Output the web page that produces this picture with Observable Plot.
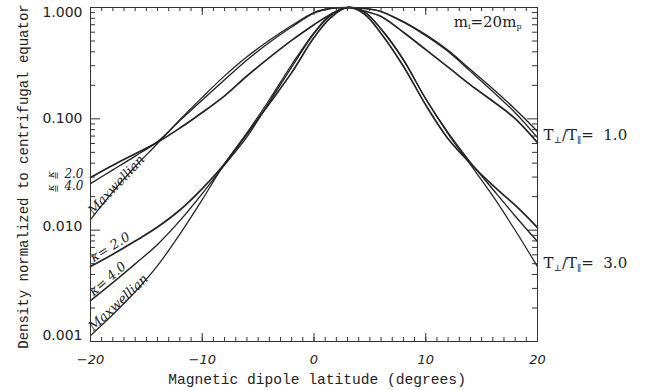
<!DOCTYPE html>
<html>
<head>
<meta charset="utf-8">
<script src="https://cdn.jsdelivr.net/npm/d3@7"></script>
<script src="https://cdn.jsdelivr.net/npm/@observablehq/plot@0.6"></script>
<style>
  html, body { margin: 0; padding: 0; background: #fff; }
</style>
</head>
<body>
<div id="chart"></div>
<script>
// ---------- data ----------
const latitude = [-20, -18, -16, -14, -12, -10, -8, -6, -4, -2, 0, 1.5, 3, 4.5, 6, 8, 10, 12, 14, 16, 18, 20];

// T_perp/T_par = 1.0
const t1Kappa2 = [0.0297, 0.0383, 0.0486, 0.0616, 0.0826, 0.114, 0.161, 0.2425, 0.355, 0.507, 0.70, 0.87, 1.0, 0.93, 0.83, 0.599, 0.418, 0.291, 0.2017, 0.144, 0.1006, 0.0612];
const t1Kappa4 = [0.0262, 0.0348, 0.0463, 0.0624, 0.0964, 0.1475, 0.224, 0.337, 0.485, 0.668, 0.892, 0.98, 1.0, 0.98, 0.92, 0.748, 0.570, 0.412, 0.277, 0.186, 0.122, 0.0769];
const t1Maxw   = [0.01245, 0.0221, 0.0373, 0.0601, 0.0984, 0.156, 0.243, 0.361, 0.507, 0.689, 0.902, 0.98, 1.0, 0.98, 0.92, 0.736, 0.558, 0.402, 0.267, 0.176, 0.1135, 0.0679];

// T_perp/T_par = 3.0
const t3Kappa2 = [0.00471, 0.00607, 0.00798, 0.01067, 0.01517, 0.02365, 0.0395, 0.0732, 0.1367, 0.260, 0.537, 0.81, 1.0, 0.874, 0.585, 0.297, 0.133, 0.0662, 0.0397, 0.0252, 0.01675, 0.01055];
const t3Kappa4 = [0.00233, 0.00338, 0.00498, 0.00745, 0.01217, 0.0213, 0.0386, 0.069, 0.1416, 0.291, 0.584, 0.848, 1.0, 0.911, 0.638, 0.337, 0.151, 0.0752, 0.0407, 0.0233, 0.01342, 0.0079];
const t3Maxw   = [0.00113, 0.00175, 0.00280, 0.00480, 0.0092, 0.0188, 0.0396, 0.0748, 0.1484, 0.306, 0.596, 0.865, 1.0, 0.915, 0.645, 0.342, 0.1507, 0.0733, 0.0387, 0.0203, 0.00998, 0.00471];

const seriesNames = ["t1Kappa2", "t1Kappa4", "t1Maxw", "t3Kappa2", "t3Kappa4", "t3Maxw"];
const seriesValues = [t1Kappa2, t1Kappa4, t1Maxw, t3Kappa2, t3Kappa4, t3Maxw];
const seriesKind = ["kappa2", "kappa4", "maxw", "kappa2", "kappa4", "maxw"];

const xTicks = [-20, -10, 0, 10, 20];
const yTicks = [0.001, 0.01, 0.1, 1];
const xTitle = "Magnetic dipole latitude (degrees)";
const yTitle = "Density normalized to centrifugal equator";
const massLabel = "mi=20mp";
const ratioLabels = ["T⊥/T∥= 1.0", "T⊥/T∥= 3.0"];
const curveLabels = ["Maxwellian", "κ= 2.0", "κ= 4.0", "Maxwellian"];
const edgeLabels = ["2.0", "4.0"];

// ---------- derived tables ----------
const rows = seriesNames.flatMap((name, i) =>
  latitude.map((lat, j) => ({series: name, kind: seriesKind[i], lat, density: seriesValues[i][j]})));

const xMinor = d3.range(-20, 21, 1);
const yMinor = [];
for (const dec of [0.001, 0.01, 0.1]) for (let m = 2; m <= 9; m++) yMinor.push(+(m * dec).toPrecision(3));

// ---------- layout ----------
const W = 648, H = 390;
const mL = 90, mR = 111, mT = 7, mB = 49;
const innerW = W - mL - mR, innerH = H - mT - mB;
const ink = "#222";
const widthByKind = {kappa2: 1.7, kappa4: 1.35, maxw: 1.25};
const yLabelShift = [-6, -4, 0, 5]; // vertical nudge of each y tick label (px)

function firstPoint(arr) { return {lat: latitude[0], density: arr[0]}; }
function lastPoint(arr) { return {lat: latitude[latitude.length - 1], density: arr[arr.length - 1]}; }

const labelFont = {fontFamily: "DejaVu Serif", fontStyle: "italic", fontSize: 13, fill: ink};

const chart = Plot.plot({
  width: W, height: H,
  marginLeft: mL, marginRight: mR, marginTop: mT, marginBottom: mB,
  x: {domain: [-20, 20]},
  y: {type: "log", domain: [0.001, 1]},
  style: {background: "white", color: ink, overflow: "visible"},
  marks: [
    // curves
    ...seriesNames.map((name, i) =>
      Plot.line(rows.filter(r => r.series === name), {
        x: "lat", y: "density", stroke: ink,
        strokeWidth: widthByKind[seriesKind[i]], curve: "catmull-rom"
      })),
    // frame
    Plot.frame({stroke: "#333", strokeWidth: 1}),
    // inward ticks, x
    Plot.tickX(xMinor, {x: d => d, insetTop: innerH - 4, stroke: "#333"}),
    Plot.tickX(xMinor, {x: d => d, insetBottom: innerH - 4, stroke: "#333"}),
    Plot.tickX(xTicks, {x: d => d, insetTop: innerH - 8, stroke: "#333"}),
    Plot.tickX(xTicks, {x: d => d, insetBottom: innerH - 8, stroke: "#333"}),
    // inward ticks, y
    Plot.tickY(yMinor, {y: d => d, insetRight: innerW - 5, stroke: "#333"}),
    Plot.tickY(yMinor, {y: d => d, insetLeft: innerW - 5, stroke: "#333"}),
    Plot.tickY(yTicks, {y: d => d, insetRight: innerW - 10, stroke: "#333"}),
    Plot.tickY(yTicks, {y: d => d, insetLeft: innerW - 10, stroke: "#333"}),
    // axes labels
    Plot.axisX(xTicks, {tickSize: 0, tickPadding: 13, label: null, fontFamily: "DejaVu Sans", fontStyle: "italic", fontSize: 13, fill: ink}),
    ...yTicks.map((t, i) =>
      Plot.axisY([t], {tickSize: 0, tickPadding: 8, dy: yLabelShift[i], label: null, tickFormat: d3.format(".3f"), fontFamily: "DejaVu Sans", fontSize: 14, fill: ink})),
    Plot.text([xTitle], {text: d => d, frameAnchor: "bottom", dx: 3, dy: 38, textAnchor: "middle", lineAnchor: "middle", fontFamily: "Liberation Mono", fontSize: 14.6, fill: ink}),
    Plot.text([yTitle], {text: d => d, frameAnchor: "left", dx: -67, dy: 2, rotate: -90, textAnchor: "middle", lineAnchor: "middle", fontFamily: "Liberation Mono", fontSize: 14, fill: ink}),
    // mass label
    Plot.text([massLabel], {text: d => d, frameAnchor: "top-right", dx: -16, dy: 15, textAnchor: "end", lineAnchor: "middle", fontFamily: "DejaVu Serif", fontSize: 15, fill: ink}),
    // ratio labels at right edge
    Plot.text([lastPoint(t1Maxw)], {x: "lat", y: "density", text: () => ratioLabels[0], dx: 6, dy: -2, textAnchor: "start", lineAnchor: "middle", fontFamily: "DejaVu Serif", fontSize: 15, fill: ink}),
    Plot.text([lastPoint(t3Maxw)], {x: "lat", y: "density", text: () => ratioLabels[1], dx: 6, dy: -3, textAnchor: "start", lineAnchor: "middle", fontFamily: "DejaVu Serif", fontSize: 15, fill: ink}),
    // curve labels along left curves
    Plot.text([firstPoint(t1Maxw)], {x: "lat", y: "density", text: () => curveLabels[0], dx: 3, dy: -4, rotate: -47, textAnchor: "start", lineAnchor: "bottom", ...labelFont}),
    Plot.text([firstPoint(t3Kappa2)], {x: "lat", y: "density", text: () => curveLabels[1], dx: 3, dy: -4, rotate: -32, textAnchor: "start", lineAnchor: "bottom", ...labelFont}),
    Plot.text([firstPoint(t3Kappa4)], {x: "lat", y: "density", text: () => curveLabels[2], dx: 3, dy: -4, rotate: -41, textAnchor: "start", lineAnchor: "bottom", ...labelFont}),
    Plot.text([firstPoint(t3Maxw)], {x: "lat", y: "density", text: () => curveLabels[3], dx: 3, dy: -4, rotate: -43, textAnchor: "start", lineAnchor: "bottom", ...labelFont}),
    // squeezed kappa labels left of the axis (T ratio 1.0)
    Plot.text([firstPoint(t1Kappa2)], {x: "lat", y: "density", text: () => edgeLabels[0], dx: -7, dy: -3, textAnchor: "end", lineAnchor: "middle", ...labelFont, fontSize: 12}),
    Plot.text([firstPoint(t1Kappa4)], {x: "lat", y: "density", text: () => edgeLabels[1], dx: -7, dy: 3, textAnchor: "end", lineAnchor: "middle", ...labelFont, fontSize: 12}),
    Plot.text([firstPoint(t1Kappa2)], {x: "lat", y: "density", text: () => "κ", dx: -40, dy: -3, rotate: -90, textAnchor: "middle", lineAnchor: "middle", ...labelFont, fontSize: 10}),
    Plot.text([firstPoint(t1Kappa4)], {x: "lat", y: "density", text: () => "κ", dx: -40, dy: 4, rotate: -90, textAnchor: "middle", lineAnchor: "middle", ...labelFont, fontSize: 10}),
    Plot.text([firstPoint(t1Kappa2)], {x: "lat", y: "density", text: () => "=", dx: -34, dy: -2, rotate: -90, textAnchor: "middle", lineAnchor: "middle", ...labelFont, fontSize: 10}),
    Plot.text([firstPoint(t1Kappa4)], {x: "lat", y: "density", text: () => "=", dx: -34, dy: 5, rotate: -90, textAnchor: "middle", lineAnchor: "middle", ...labelFont, fontSize: 10})
  ]
});

// turn the plain label text into subscripted text (still real text)
const NS = "http://www.w3.org/2000/svg";
function addSpan(t, str, opts = {}) {
  const s = document.createElementNS(NS, "tspan");
  s.textContent = str;
  if (opts.size) s.setAttribute("font-size", opts.size);
  if (opts.dy) s.setAttribute("dy", opts.dy);
  t.appendChild(s);
}
chart.querySelectorAll("text").forEach(t => {
  const s = t.textContent;
  if (s.startsWith("T⊥/T∥=")) {
    const val = s.split("=")[1].trim();
    t.textContent = "";
    addSpan(t, "T");
    addSpan(t, "⊥", {size: 9, dy: 3});
    addSpan(t, "/T", {dy: -3});
    addSpan(t, "∥", {size: 9, dy: 3});
    addSpan(t, "=\u00a0\u00a0" + val, {dy: -3});
  } else if (s === massLabel) {
    t.textContent = "";
    addSpan(t, "m");
    addSpan(t, "i", {size: 8, dy: 2});
    addSpan(t, "=20m", {dy: -2});
    addSpan(t, "p", {size: 8, dy: 2});
  }
});

document.getElementById("chart").appendChild(chart);
</script>
</body>
</html>
